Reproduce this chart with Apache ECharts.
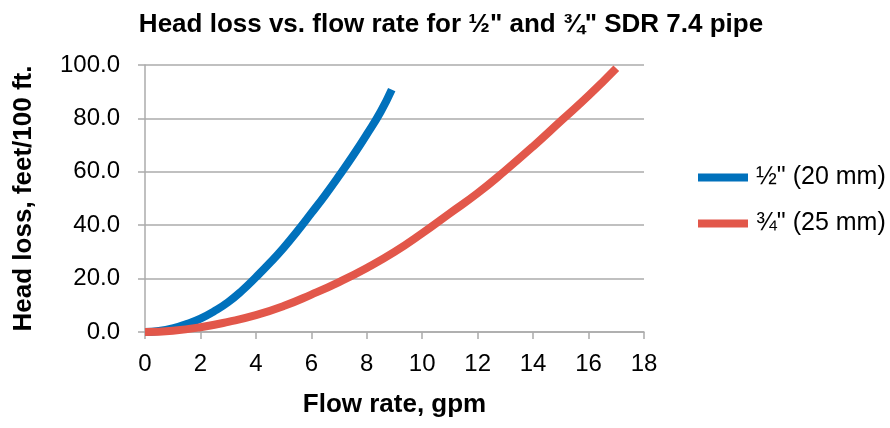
<!DOCTYPE html>
<html>
<head>
<meta charset="utf-8">
<script src="https://cdn.jsdelivr.net/npm/echarts@6/dist/echarts.min.js"></script>
<style>
  html, body { margin: 0; padding: 0; background: #fff; }
  #chart { width: 890px; height: 428px; }
</style>
</head>
<body>
<div id="chart"></div>
<script>
// Head loss (feet per 100 ft) against flow rate (gpm) for two SDR 7.4 pipe sizes
const titleText = 'Head loss vs. flow rate for \u00BD" and \u00BE" SDR 7.4 pipe';
const xAxisName = 'Flow rate, gpm';
const yAxisName = 'Head loss, feet/100 ft.';
const seriesNames = ['\u00BD" (20 mm)', '\u00BE" (25 mm)'];

// 1/2" pipe
const flowHalf = [0, 0.5, 1, 1.5, 2, 2.5, 3, 3.5, 4, 4.5, 5, 5.5, 6, 6.5, 7, 7.5, 8, 8.5, 8.9];
const lossHalf = [0, 0.4, 1.4, 3.0, 5.0, 7.8, 11.2, 15.5, 20.5, 25.8, 31.5, 37.8, 44.5, 51.3, 58.5, 66.0, 74.0, 82.5, 90.8];

// 3/4" pipe
const flowThreeQuarter = [0, 1, 2, 3, 4, 5, 6, 7, 8, 9, 10, 11, 12, 13, 14, 15, 16, 17];
const lossThreeQuarter = [0, 0.5, 1.8, 3.8, 6.3, 9.7, 14.0, 18.7, 24.0, 30.0, 37.0, 44.5, 52.0, 60.5, 69.5, 79.0, 88.5, 98.8];

const xTicks = { min: 0, max: 18, interval: 2 };
const yTicks = { min: 0, max: 100, interval: 20 };

const colors = ['#0071BC', '#E2574A'];
const font = '"Liberation Sans", Arial, sans-serif';

const pairs = (xs, ys) => xs.map((x, i) => [x, ys[i]]);

const chart = echarts.init(document.getElementById('chart'), null, { renderer: 'canvas' });
chart.setOption({
  animation: false,
  color: colors,
  title: {
    text: titleText,
    left: 446,
    textAlign: 'center',
    top: 7,
    textStyle: { fontFamily: font, fontSize: 26, fontWeight: 'bold', color: '#000' }
  },
  legend: {
    orient: 'vertical',
    left: 693,
    top: 160,
    itemGap: 21,
    itemWidth: 50,
    itemHeight: 8,
    icon: 'rect',
    data: seriesNames,
    textStyle: { fontFamily: font, fontSize: 25, color: '#000', padding: [0, 0, 0, 3] }
  },
  grid: { left: 145, right: 246, top: 65, bottom: 96, containLabel: false },
  xAxis: {
    type: 'value',
    min: xTicks.min, max: xTicks.max, interval: xTicks.interval,
    name: xAxisName,
    nameLocation: 'middle',
    nameGap: 60,
    nameTextStyle: { fontFamily: font, fontSize: 26, fontWeight: 'bold', color: '#000' },
    axisLine: { show: true, lineStyle: { color: '#ABABAB', width: 1.5 } },
    axisTick: { show: true, length: 7, lineStyle: { color: '#ABABAB', width: 1.5 } },
    axisLabel: { fontFamily: font, fontSize: 24, color: '#000', margin: 20 },
    splitLine: { show: false }
  },
  yAxis: {
    type: 'value',
    min: yTicks.min, max: yTicks.max, interval: yTicks.interval,
    name: yAxisName,
    nameLocation: 'middle',
    nameGap: 108,
    nameRotate: 90,
    nameTextStyle: { fontFamily: font, fontSize: 26, fontWeight: 'bold', color: '#000' },
    axisLine: { show: true, lineStyle: { color: '#ABABAB', width: 1.5 } },
    axisTick: { show: true, length: 7, lineStyle: { color: '#ABABAB', width: 1.5 } },
    axisLabel: {
      fontFamily: font, fontSize: 24, color: '#000', margin: 25,
      formatter: v => v.toFixed(1)
    },
    splitLine: { show: true, lineStyle: { color: '#ABABAB', width: 1.5 } }
  },
  series: [
    {
      name: seriesNames[0],
      type: 'line',
      data: pairs(flowHalf, lossHalf),
      smooth: true,
      showSymbol: false,
      lineStyle: { width: 8, color: colors[0], cap: 'butt' }
    },
    {
      name: seriesNames[1],
      type: 'line',
      data: pairs(flowThreeQuarter, lossThreeQuarter),
      smooth: true,
      showSymbol: false,
      lineStyle: { width: 8, color: colors[1], cap: 'butt' }
    }
  ]
});
</script>
</body>
</html>
